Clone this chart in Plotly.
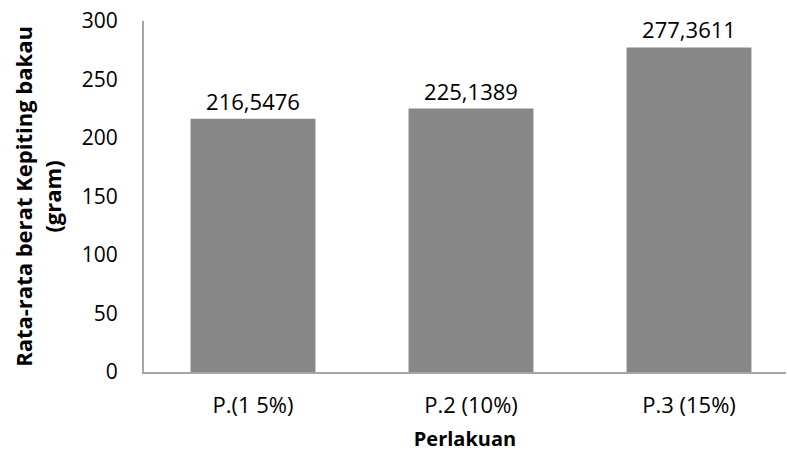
import plotly.graph_objects as go

categories = ["P.(1 5%)", "P.2 (10%)", "P.3 (15%)"]
values = [216.5476, 225.1389, 277.3611]
labels = ["216,5476", "225,1389", "277,3611"]
y_ticks = [0, 50, 100, 150, 200, 250, 300]

FONT = "Open Sans"

fig = go.Figure(go.Bar(
    x=categories, y=values,
    marker=dict(color="#878787", line=dict(width=0)),
    width=0.573,
    text=labels, textposition="outside", cliponaxis=False,
    textfont=dict(family=FONT, size=22, color="#000000"),
    hoverinfo="skip",
))

fig.update_layout(
    width=787, height=452,
    margin=dict(l=144, r=1, t=21, b=80),
    plot_bgcolor="white", paper_bgcolor="white",
    showlegend=False,
    font=dict(family=FONT, size=21, color="#000000"),
)
fig.update_xaxes(
    range=[-0.5, 2.445], automargin=False,
    showline=True, linecolor="#a6a6a6", linewidth=2,
    ticks="", showgrid=False,
    ticklabelstandoff=13,
    tickfont=dict(family=FONT, size=22),
    title=dict(text="<b>Perlakuan</b>", font=dict(family=FONT, size=20), standoff=24),
)
fig.update_yaxes(
    range=[0, 300], tickvals=y_ticks, automargin=False,
    showline=True, linecolor="#a6a6a6", linewidth=2,
    ticks="", showgrid=False, zeroline=False,
    ticklabelstandoff=20, ticklabeloverflow="allow",
    tickfont=dict(family=FONT, size=21),
    title=dict(text="<b>Rata-rata berat Kepiting bakau<br>(gram)</b>",
               font=dict(family=FONT, size=22), standoff=14),
)

fig.write_html("out.html",
               config={"displayModeBar": False},
               post_script="document.body.style.margin='0';document.body.style.overflow='hidden';")
